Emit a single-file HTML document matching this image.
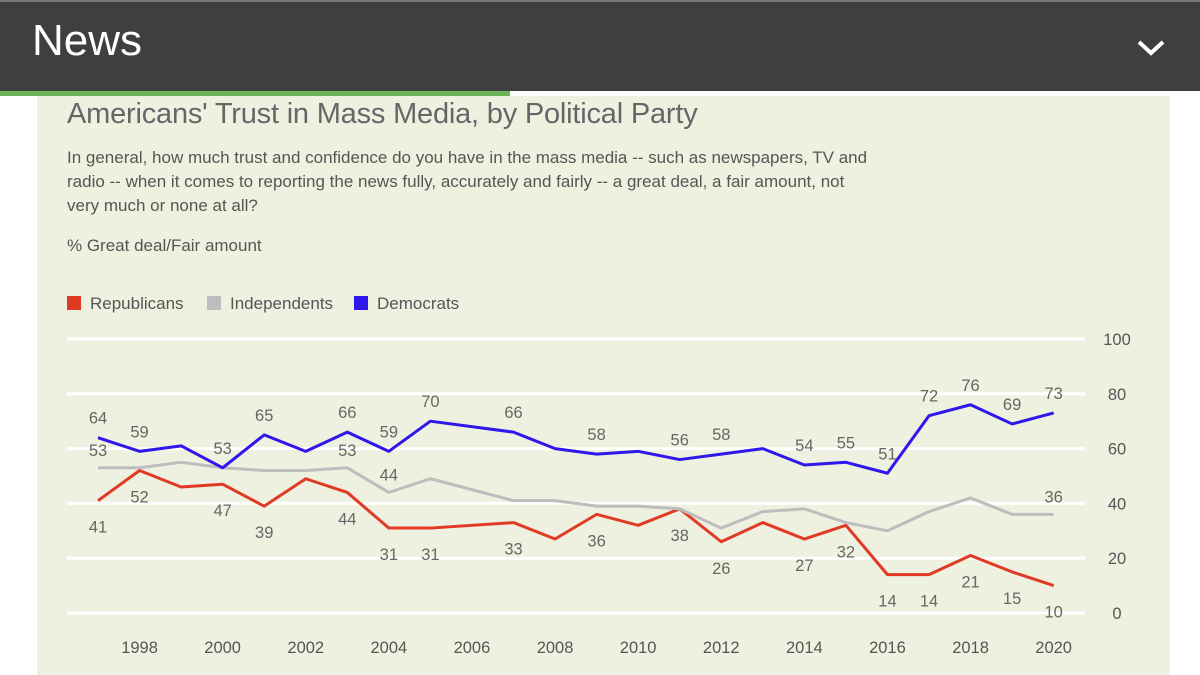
<!DOCTYPE html>
<html><head><meta charset="utf-8">
<style>
body{margin:0;width:1200px;height:675px;overflow:hidden;background:#fff;font-family:"Liberation Sans",sans-serif;position:relative}
#hdr{position:absolute;left:0;top:0;width:1200px;height:91px;background:#3f3f3f;border-top:2px solid #777;box-sizing:border-box}
#hdr .t{position:absolute;left:32px;top:14px;font-size:44px;color:#fff;font-weight:300}
#green{position:absolute;left:0;top:91px;width:510px;height:5px;background:#6db556}
#panel{position:absolute;left:37px;top:96px;width:1133px;height:579px;background:#eef1e0}
.txt{position:absolute;color:#555;white-space:nowrap}
</style></head><body>
<div id="hdr"><div class="t">News</div>
<svg style="position:absolute;left:1136px;top:36px" width="30" height="20"><polyline points="3,4 15,15 27,4" fill="none" stroke="#fff" stroke-width="4"/></svg></div>
<div id="green"></div>
<div id="panel"></div>
<div class="txt" style="left:67px;top:98px;font-size:29px;color:#666;letter-spacing:-0.2px">Americans' Trust in Mass Media, by Political Party</div>
<div class="txt" style="left:67px;top:146px;font-size:17px;line-height:24px">In general, how much trust and confidence do you have in the mass media -- such as newspapers, TV and<br>radio -- when it comes to reporting the news fully, accurately and fairly -- a great deal, a fair amount, not<br>very much or none at all?</div>
<div class="txt" style="left:67px;top:236px;font-size:17px">% Great deal/Fair amount</div>
<svg id="chart" width="1200" height="675" style="position:absolute;left:0;top:0"></svg>
<script>
const years=[1997,1998,1999,2000,2001,2002,2003,2004,2005,2007,2008,2009,2010,2011,2012,2013,2014,2015,2016,2017,2018,2019,2020];
const dem=[64,59,61,53,65,59,66,59,70,66,60,58,59,56,58,60,54,55,51,72,76,69,73];
const ind=[53,53,55,53,52,52,53,44,49,41,41,39,39,38,31,37,38,33,30,37,42,36,36];
const rep=[41,52,46,47,39,49,44,31,31,33,27,36,32,38,26,33,27,32,14,14,21,15,10];
const demShown=[1,1,0,1,1,0,1,1,1,1,0,1,0,1,1,0,1,1,1,1,1,1,1];
const indShown=[1,0,0,0,0,0,1,1,0,0,0,0,0,0,0,0,0,0,0,0,0,0,1];
const repShown=[1,1,0,1,1,0,1,1,1,1,0,1,0,1,1,0,1,1,1,1,1,1,1];
const yTicks=[0,20,40,60,80,100];
const xTicks=[1998,2000,2002,2004,2006,2008,2010,2012,2014,2016,2018,2020];
const series=[{n:'republicans',c:'#e03a25',v:rep,s:repShown,off:26},{n:'independents',c:'#bdbdbd',v:ind,s:indShown,off:-18},{n:'democrats',c:'#2f16ea',v:dem,s:demShown,off:-20}];
const X=y=>98+(y-1997)*41.55, Y=v=>613-v*2.74;
const svg=document.getElementById('chart'),NS='http://www.w3.org/2000/svg';
function mk(t,a){const e=document.createElementNS(NS,t);for(const k in a)e.setAttribute(k,a[k]);svg.appendChild(e);return e;}
yTicks.forEach(t=>{const l=mk('line',{x1:67,x2:1085,y1:Y(t),y2:Y(t),stroke:'#fff','stroke-width':3});


const tx=mk('text',{x:1117,y:Y(t)+6,'text-anchor':'middle','font-size':16.5,fill:'#555'});tx.textContent=t;

});
xTicks.forEach(t=>{const tx=mk('text',{x:X(t),y:653,'text-anchor':'middle','font-size':16.5,fill:'#555'});tx.textContent=t;

});
series.forEach(s=>{const p=mk('polyline',{points:years.map((y,i)=>X(y)+','+Y(s.v[i])).join(' '),fill:'none',stroke:s.c,'stroke-width':3,'stroke-linejoin':'round'});


years.forEach((y,i)=>{if(!s.s[i])return;const tx=mk('text',{x:X(y),y:Y(s.v[i])+s.off+6,'text-anchor':'middle','font-size':16.5,fill:'#666'});tx.textContent=s.v[i];

});});
const leg=[['Republicans','#e03a25',67],['Independents','#bdbdbd',207],['Democrats','#2f16ea',354]];
leg.forEach(l=>{const r=mk('rect',{x:l[2],y:296,width:14,height:14,fill:l[1]});


const t=mk('text',{x:l[2]+23,y:309,'font-size':17,fill:'#555'});t.textContent=l[0];

});
</script>
</body></html>
